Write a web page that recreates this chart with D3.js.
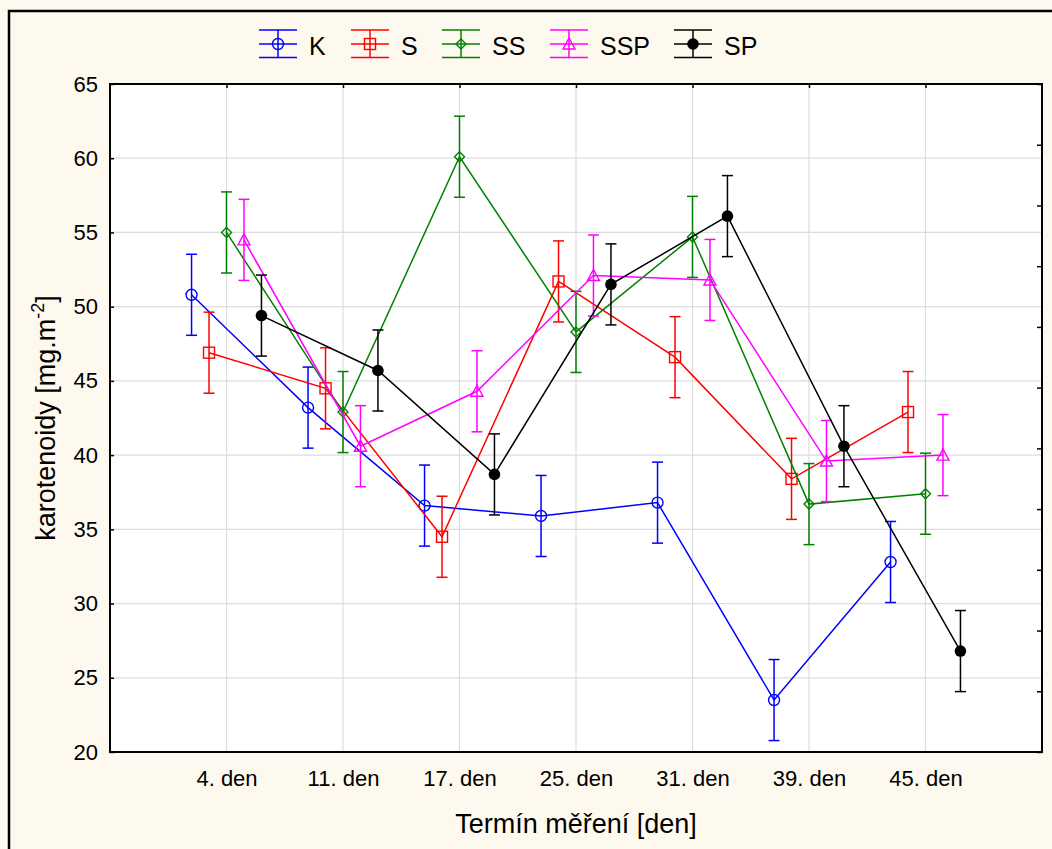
<!DOCTYPE html>
<html><head><meta charset="utf-8">
<script src="https://cdn.jsdelivr.net/npm/d3@7"></script>
<style>
html,body{margin:0;padding:0;background:#FEF9EE;}
svg{display:block;font-family:"Liberation Sans",Arial,sans-serif;}
</style></head>
<body><svg id="c" width="1052" height="849"></svg>
<script>
const categories = ["4. den","11. den","17. den","25. den","31. den","39. den","45. den"];
const seriesNames = ["K","S","SS","SSP","SP"];
const seriesColors = ["#0000FF","#FF0000","#008000","#FF00FF","#000000"];
const valuesK   = [50.8, 43.2, 36.6, 35.9, 36.8, 23.5, 32.8];
const valuesS   = [46.9, 44.5, 34.5, 51.7, 46.6, 38.4, 42.9];
const valuesSS  = [55.0, 42.9, 60.1, 48.3, 54.7, 36.7, 37.4];
const valuesSSP = [54.5, 40.6, 44.3, 52.1, 51.8, 39.6, 40.0];
const valuesSP  = [49.4, 45.7, 38.7, 51.5, 56.1, 40.6, 26.8];
const errorHalf = [2.73, 2.73, 2.73, 2.73, 2.73, 2.73, 2.73];
const yTicks = [20, 25, 30, 35, 40, 45, 50, 55, 60, 65];
const yTitle = "karotenoidy [mg.m";
const xTitle = "Termín měření [den]";

const allValues = [valuesK, valuesS, valuesSS, valuesSSP, valuesSP];
const offsets = [-0.3, -0.15, 0, 0.15, 0.3];
const markerTypes = ["circle","square","diamond","triangle","dot"];

const svg = d3.select("#c");
const L = 110, R = 1042, T = 84, B = 752;
const x = d3.scaleLinear().domain([0, categories.length + 1]).range([L, R]);
const y = d3.scaleLinear().domain([20, 65]).range([B, T]);
const FONT = "Liberation Sans, Arial, sans-serif";

// outer frame
svg.append("rect").attr("x", 9).attr("y", 11).attr("width", 1100).attr("height", 900)
  .attr("fill", "#FEF9EE").attr("stroke", "#000").attr("stroke-width", 2.5);

// plot background
svg.append("rect").attr("x", L).attr("y", T).attr("width", R - L).attr("height", B - T).attr("fill", "#fff");

// grid
const g = svg.append("g");
g.selectAll(".hg").data(yTicks.slice(1, -1)).enter().append("line")
  .attr("x1", L).attr("x2", R).attr("y1", d => y(d)).attr("y2", d => y(d))
  .attr("stroke", "#dcdcdc").attr("stroke-width", 1.2);
g.selectAll(".vg").data(categories).enter().append("line")
  .attr("x1", (d, i) => x(i + 1)).attr("x2", (d, i) => x(i + 1)).attr("y1", T).attr("y2", B)
  .attr("stroke", "#dcdcdc").attr("stroke-width", 1.2);

// axes via d3
const yAxis = d3.axisLeft(y).tickValues(yTicks).tickSize(-4).tickPadding(12);
const ya = svg.append("g").attr("transform", `translate(${L},0)`).call(yAxis);
ya.select(".domain").remove();
ya.selectAll("text").attr("font-size", 22).attr("fill", "#000").attr("font-family", FONT);
ya.selectAll("line").attr("stroke", "#000").attr("stroke-width", 1.5);

const xAxis = d3.axisBottom(x).tickValues(categories.map((d, i) => i + 1))
  .tickFormat((d) => categories[d - 1]).tickSize(0).tickPadding(18);
const xa = svg.append("g").attr("transform", `translate(0,${B})`).call(xAxis);
xa.select(".domain").remove();
xa.selectAll("text").attr("font-size", 22).attr("fill", "#000").attr("font-family", FONT);

// top inward ticks
const xTop = d3.axisTop(x).tickValues(categories.map((d, i) => i + 1)).tickSize(-4).tickFormat("");
const xt = svg.append("g").attr("transform", `translate(0,${T})`).call(xTop);
xt.select(".domain").remove();
xt.selectAll("line").attr("stroke", "#000").attr("stroke-width", 1.5);

// right inward ticks (11 divisions, unlabeled)
const yR = d3.scaleLinear().domain([0, 11]).range([B, T]);
const yRight = d3.axisRight(yR).tickValues(d3.range(0, 12)).tickSize(-5).tickFormat("");
const yr = svg.append("g").attr("transform", `translate(${R},0)`).call(yRight);
yr.select(".domain").remove();
yr.selectAll("line").attr("stroke", "#000").attr("stroke-width", 1.5);

// plot frame
svg.append("rect").attr("x", L).attr("y", T).attr("width", R - L).attr("height", B - T)
  .attr("fill", "none").attr("stroke", "#000").attr("stroke-width", 2);

function drawMarker(sel, type, color, cx, cy) {
  if (type === "circle") {
    sel.append("circle").attr("cx", cx).attr("cy", cy).attr("r", 5.5)
      .attr("fill", "none").attr("stroke", color).attr("stroke-width", 1.4);
  } else if (type === "square") {
    sel.append("rect").attr("x", cx - 5.5).attr("y", cy - 5.5).attr("width", 11).attr("height", 11)
      .attr("fill", "none").attr("stroke", color).attr("stroke-width", 1.4);
  } else if (type === "diamond") {
    sel.append("path").attr("d", `M${cx},${cy - 5}L${cx + 5},${cy}L${cx},${cy + 5}L${cx - 5},${cy}Z`)
      .attr("fill", "none").attr("stroke", color).attr("stroke-width", 1.4);
  } else if (type === "triangle") {
    sel.append("path").attr("d", `M${cx},${cy - 6}L${cx + 6},${cy + 5}L${cx - 6},${cy + 5}Z`)
      .attr("fill", "none").attr("stroke", color).attr("stroke-width", 1.4);
  } else {
    sel.append("circle").attr("cx", cx).attr("cy", cy).attr("r", 5.8).attr("fill", color);
  }
}

// series
const plot = svg.append("g");
allValues.forEach((vals, s) => {
  const color = seriesColors[s];
  const px = i => x(i + 1 + offsets[s]);
  const line = d3.line().x((d, i) => px(i)).y(d => y(d));
  const sg = plot.append("g");
  sg.append("path").attr("d", line(vals)).attr("fill", "none").attr("stroke", color).attr("stroke-width", 1.5);
  vals.forEach((v, i) => {
    const cx = px(i), e = errorHalf[i];
    sg.append("line").attr("x1", cx).attr("x2", cx).attr("y1", y(v + e)).attr("y2", y(v - e))
      .attr("stroke", color).attr("stroke-width", 1.5);
    [v + e, v - e].forEach(w => sg.append("line").attr("x1", cx - 5.5).attr("x2", cx + 5.5)
      .attr("y1", y(w)).attr("y2", y(w)).attr("stroke", color).attr("stroke-width", 1.5));
    drawMarker(sg, markerTypes[s], color, cx, y(v));
  });
});

// legend
const legendX = [259, 351, 442, 550, 674];
const lg = svg.append("g");
seriesNames.forEach((name, s) => {
  const color = seriesColors[s];
  const x0 = legendX[s], x1 = x0 + 38, mx = (x0 + x1) / 2;
  [30, 44, 57.5].forEach(yy => lg.append("line").attr("x1", x0).attr("x2", x1).attr("y1", yy).attr("y2", yy)
    .attr("stroke", color).attr("stroke-width", 1.5));
  lg.append("line").attr("x1", mx).attr("x2", mx).attr("y1", 30).attr("y2", 57.5).attr("stroke", color).attr("stroke-width", 1.5);
  drawMarker(lg, markerTypes[s], color, mx, 44);
  lg.append("text").attr("x", x1 + 12).attr("y", 55).attr("font-size", 25).attr("fill", "#000").text(name);
});

// axis titles
const yt = svg.append("text").attr("transform", `translate(55,${(T + B) / 2}) rotate(-90)`)
  .attr("text-anchor", "middle").attr("font-size", 27).attr("fill", "#000");
yt.append("tspan").text(yTitle);
yt.append("tspan").attr("dy", -11).attr("font-size", 18).text("-2");
yt.append("tspan").attr("dy", 11).text("]");

svg.append("text").attr("x", (L + R) / 2).attr("y", 833).attr("text-anchor", "middle")
  .attr("font-size", 27).attr("fill", "#000").text(xTitle);
</script>
</body></html>
